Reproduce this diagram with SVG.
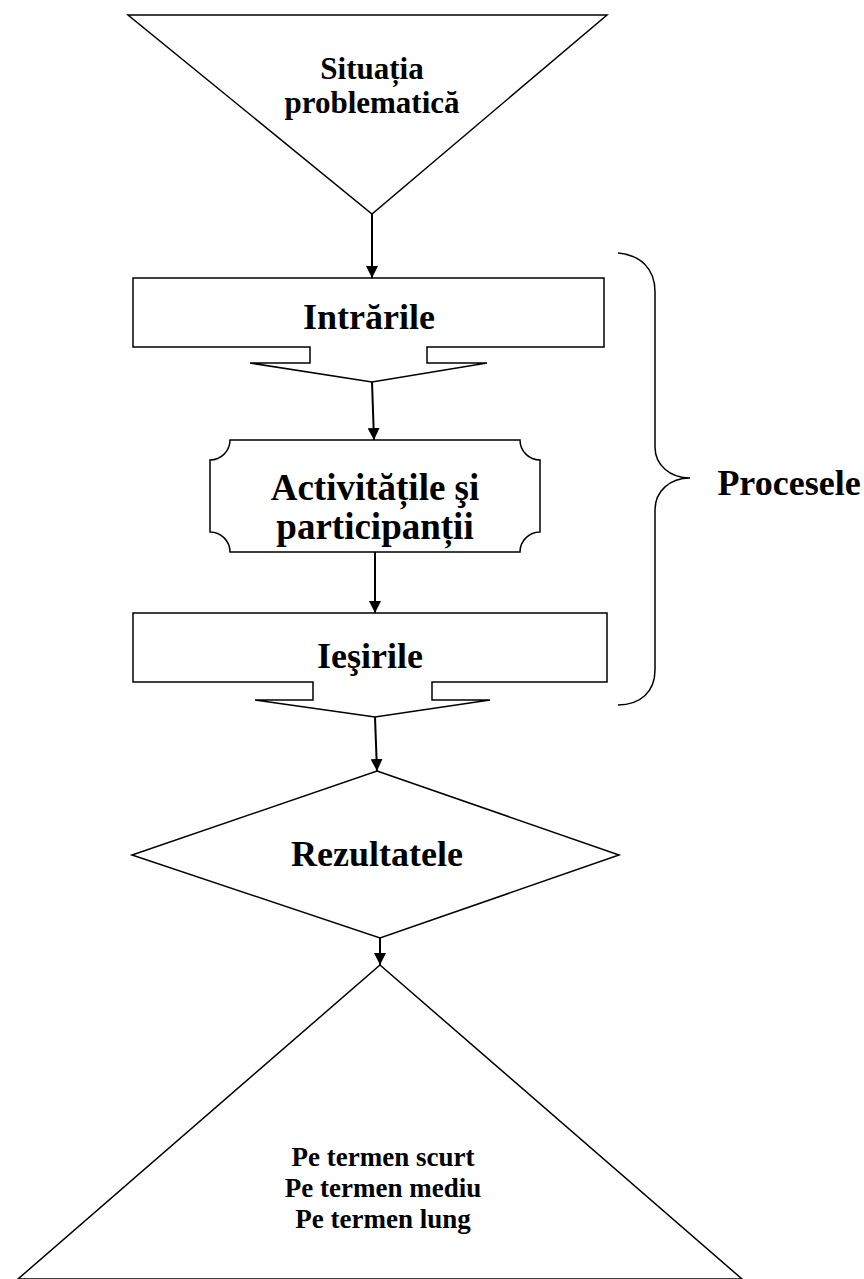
<svg xmlns="http://www.w3.org/2000/svg" width="864" height="1279" viewBox="0 0 864 1279">
<defs>
<style>
.s{fill:#fff;stroke:#000;stroke-width:1.5;stroke-linejoin:miter}
.c{stroke:#000;stroke-width:2;fill:none}
.t{font-family:"Liberation Serif","Times New Roman",serif;font-weight:bold;fill:#000;text-anchor:middle}
</style>
<marker id="ah" viewBox="0 0 12 12" refX="12" refY="6" markerWidth="12" markerHeight="12" markerUnits="userSpaceOnUse" orient="auto">
<path d="M0,0 L12,6 L0,12 z" fill="#000"/>
</marker>
</defs>
<rect width="864" height="1279" fill="#fff"/>
<g id="situatia">
<polygon class="s" points="128,15 607,15 372,214"/>
<text class="t" x="372" y="79" font-size="31">Situația</text>
<text class="t" x="372" y="113" font-size="31">problematică</text>
</g>
<g id="intrarile">
<path class="s" d="M133,278 L604,278 L604,347 L427,347 L427,363 L487,363 L372,382 L250,363 L310,363 L310,347 L133,347 Z"/>
<text class="t" x="369" y="329" font-size="36">Intrările</text>
</g>
<g id="activitatile">
<path class="s" d="M230,440 L520,440 A20,20 0 0 0 540,460 L540,532 A20,20 0 0 0 520,552 L230,552 A20,20 0 0 0 210,532 L210,460 A20,20 0 0 0 230,440 Z"/>
<text class="t" x="375" y="500" font-size="37">Activitățile şi</text>
<text class="t" x="375" y="539" font-size="37">participanții</text>
</g>
<g id="iesirile">
<path class="s" d="M133,613 L607,613 L607,682 L432,682 L432,700 L490,700 L375,717 L255,700 L313,700 L313,682 L133,682 Z"/>
<text class="t" x="370" y="668" font-size="36">Ieşirile</text>
</g>
<g id="rezultatele">
<polygon class="s" points="377,771 619,855 380,938 132,855"/>
<text class="t" x="377" y="866" font-size="36">Rezultatele</text>
</g>
<g id="termen">
<polygon class="s" points="380,965 742,1279 18,1279"/>
<text class="t" x="383" y="1166" font-size="27">Pe termen scurt</text>
<text class="t" x="383" y="1197" font-size="27">Pe termen mediu</text>
<text class="t" x="383" y="1228" font-size="27">Pe termen lung</text>
</g>
<g id="procesele">
<path class="c" style="stroke-width:1.5" d="M618,253 C640,255 655,268 655,292 L655,447 C655,465 670,478 690,478 C670,478 655,491 655,510 L655,670 C655,692 640,705 618,705"/>
<text class="t" x="789" y="495" font-size="36">Procesele</text>
</g>
<g id="connectors">
<line class="c" x1="372" y1="214" x2="372" y2="278" marker-end="url(#ah)"/>
<line class="c" x1="372" y1="382" x2="374" y2="440" marker-end="url(#ah)"/>
<line class="c" x1="375" y1="552" x2="375" y2="613" marker-end="url(#ah)"/>
<line class="c" x1="375" y1="717" x2="377" y2="771" marker-end="url(#ah)"/>
<line class="c" x1="380" y1="938" x2="380" y2="965" marker-end="url(#ah)"/>
</g>
</svg>
